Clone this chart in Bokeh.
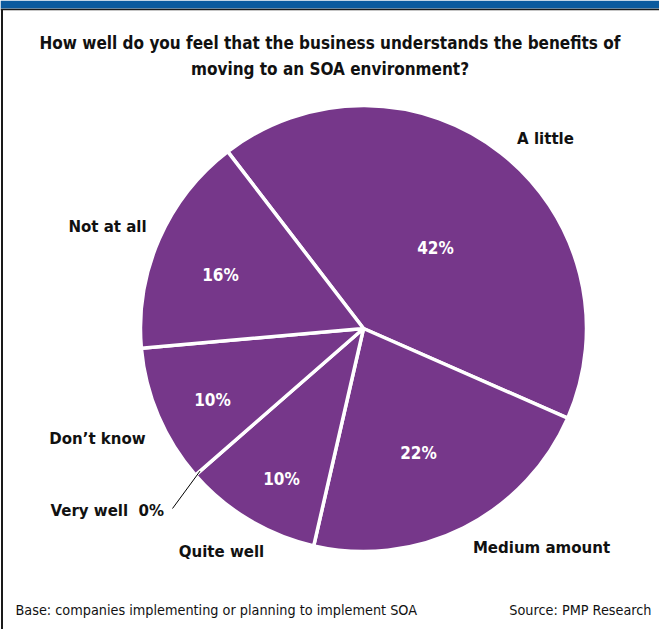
import math
from bokeh.plotting import figure
from bokeh.models import Range1d, ColumnDataSource
from bokeh.core.properties import value
from bokeh.embed import file_html
from bokeh.resources import INLINE

# ---- data ----
categories = ["A little", "Medium amount", "Quite well", "Very well", "Don\u2019t know", "Not at all"]
values = [42, 22, 10, 0, 10, 16]
pct_labels = ["42%", "22%", "10%", "0%", "10%", "16%"]
title_lines = ["How well do you feel that the business understands the benefits of",
               "moving to an SOA environment?"]
footer_left = "Base: companies implementing or planning to implement SOA"
footer_right = "Source: PMP Research"

# ---- layout (pixel space, y measured from top) ----
W, H = 659, 629
CX, CY, R = 363, 328, 223
START_DEG = 127.5
cat_pos = {
    "A little": (545, 137),
    "Medium amount": (541, 546),
    "Quite well": (221, 550),
    "Don\u2019t know": (97, 437),
    "Not at all": (107, 225),
}
pct_pos = {
    "A little": (435, 247),
    "Medium amount": (418, 452),
    "Quite well": (281, 478),
    "Don\u2019t know": (212, 399),
    "Not at all": (220, 274),
}
very_well_text_pos = (50, 509)
leader_end = (172, 508)

PURPLE = "#76378A"
BLUE = "#0B5A9E"
FONT = "'DejaVu Sans Condensed', 'Liberation Sans Narrow', sans-serif"

def Y(y):
    return H - y

p = figure(width=W, height=H, x_range=Range1d(0, W), y_range=Range1d(0, H),
           output_backend="svg", toolbar_location=None, min_border=0,
           background_fill_color="white", border_fill_color="white")
p.axis.visible = False
p.grid.visible = False
p.outline_line_color = None

# header bar and border
p.quad(left=0, right=W, bottom=Y(8), top=Y(0), fill_color=BLUE, line_color=None)
p.segment(x0=0, y0=Y(9), x1=W, y1=Y(9), line_color="#1a1a1a", line_width=1.5)
p.segment(x0=1.5, y0=Y(9), x1=1.5, y1=Y(H), line_color="#1a1a1a", line_width=2)

# wedges
starts, ends, names = [], [], []
cum = 0.0
boundary = {}
for c, v in zip(categories, values):
    a_end = START_DEG - cum * 3.6
    a_start = a_end - v * 3.6
    boundary[c] = a_end
    cum += v
    if v > 0:
        starts.append(math.radians(a_start))
        ends.append(math.radians(a_end))
        names.append(c)
src = ColumnDataSource(dict(start=starts, end=ends, name=names))
p.wedge(x=CX, y=Y(CY), radius=R, start_angle="start", end_angle="end",
        direction="anticlock", source=src, fill_color=PURPLE,
        line_color="white", line_width=3.5)

# leader line for the zero slice
ang = math.radians(boundary["Very well"])
lx0 = CX + (R - 6) * math.cos(ang)
ly0 = Y(CY) + (R - 6) * math.sin(ang)
p.segment(x0=lx0, y0=ly0, x1=leader_end[0], y1=Y(leader_end[1]),
          line_color="black", line_width=1)

# title
p.text(x=[W / 2, W / 2], y=[Y(42), Y(68)], text=title_lines,
       text_align="center", text_baseline="middle", text_font=value(FONT),
       text_font_style="bold", text_font_size="17px", text_color="#111111")

# category labels
cx_, cy_, ct = [], [], []
for c in categories:
    if c in cat_pos:
        cx_.append(cat_pos[c][0]); cy_.append(Y(cat_pos[c][1])); ct.append(c)
p.text(x=cx_, y=cy_, text=ct, text_align="center", text_baseline="middle",
       text_font=value(FONT), text_font_style="bold", text_font_size="16.7px",
       text_color="#111111")

vw_i = categories.index("Very well")
p.text(x=[very_well_text_pos[0]], y=[Y(very_well_text_pos[1])],
       text=[categories[vw_i] + "\u00a0\u00a0" + pct_labels[vw_i]],
       text_align="left", text_baseline="middle", text_font=value(FONT),
       text_font_style="bold", text_font_size="16.7px", text_color="#111111")

# percentage labels
px_, py_, pt = [], [], []
for c, t in zip(categories, pct_labels):
    if c in pct_pos:
        px_.append(pct_pos[c][0]); py_.append(Y(pct_pos[c][1])); pt.append(t)
p.text(x=px_, y=py_, text=pt, text_align="center", text_baseline="middle",
       text_font=value(FONT), text_font_style="bold", text_font_size="17px",
       text_color="white")

# footer
p.text(x=[15], y=[Y(609)], text=[footer_left], text_align="left",
       text_baseline="middle", text_font=value(FONT), text_font_size="14.3px",
       text_color="#111111")
p.text(x=[651], y=[Y(609)], text=[footer_right], text_align="right",
       text_baseline="middle", text_font=value(FONT), text_font_size="14.3px",
       text_color="#111111")

open("out.html", "w").write(file_html(p, INLINE))
